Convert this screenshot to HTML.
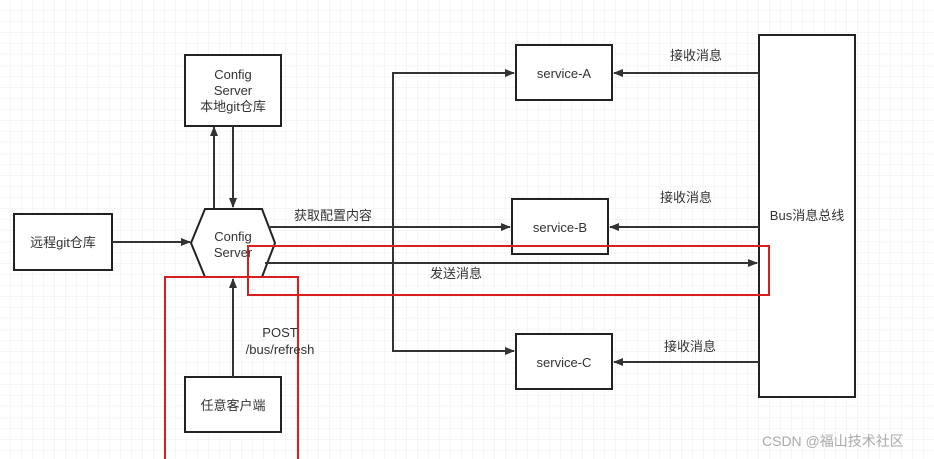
<!DOCTYPE html>
<html><head><meta charset="utf-8"><style>
body{margin:0;width:934px;height:459px;overflow:hidden;background:#fff;}
svg{display:block}
text{font-family:"Liberation Sans","Noto Sans CJK SC",sans-serif;font-size:13px;fill:#333;}
</style></head><body>
<svg width="934" height="459" viewBox="0 0 934 459" xmlns="http://www.w3.org/2000/svg">
<defs>
<pattern id="g" width="11" height="11" patternUnits="userSpaceOnUse"><path d="M11 0V11H0" fill="none" stroke="#ededed" stroke-width="1"/></pattern>
<marker id="a" markerWidth="10" markerHeight="8" refX="9" refY="4" orient="auto" markerUnits="userSpaceOnUse"><path d="M0 0L10 4L0 8z" fill="#333"/></marker>
</defs>
<rect width="934" height="459" fill="url(#g)"/>
<g stroke="#222" stroke-width="2" fill="#fff">
<rect x="14" y="214" width="98" height="56"/>
<rect x="185" y="55" width="96" height="71"/>
<polygon points="205,209 262,209 275,243 262,277 205,277 191,243"/>
<rect x="516" y="45" width="96" height="55"/>
<rect x="512" y="199" width="96" height="55"/>
<rect x="516" y="334" width="96" height="55"/>
<rect x="759" y="35" width="96" height="362"/>
<rect x="185" y="377" width="96" height="55"/>
</g>
<g stroke="#333" stroke-width="2" fill="none">
<line x1="112" y1="242" x2="190" y2="242" marker-end="url(#a)"/>
<line x1="214" y1="208" x2="214" y2="127" marker-end="url(#a)"/>
<line x1="233" y1="126" x2="233" y2="207" marker-end="url(#a)"/>
<line x1="270" y1="227" x2="510" y2="227" marker-end="url(#a)"/>
<polyline points="514,73 393,73 393,351 514,351"/>
<line x1="393" y1="73" x2="514" y2="73" marker-end="url(#a)"/>
<line x1="393" y1="351" x2="514" y2="351" marker-end="url(#a)"/>
<line x1="759" y1="73" x2="614" y2="73" marker-end="url(#a)"/>
<line x1="759" y1="227" x2="610" y2="227" marker-end="url(#a)"/>
<line x1="759" y1="362" x2="614" y2="362" marker-end="url(#a)"/>
<line x1="265" y1="263" x2="757" y2="263" marker-end="url(#a)"/>
<line x1="233" y1="377" x2="233" y2="279" marker-end="url(#a)"/>
</g>
<g stroke="#d81e1e" stroke-width="2" fill="none">
<rect x="248" y="246" width="521" height="49"/>
<polyline points="165,460 165,277 298,277 298,460"/>
</g>
<g text-anchor="middle">
<text x="63" y="247">远程git仓库</text>
<text x="233" y="79">Config</text>
<text x="233" y="95">Server</text>
<text x="233" y="111">本地git仓库</text>
<text x="233" y="241">Config</text>
<text x="233" y="257">Server</text>
<text x="564" y="78">service-A</text>
<text x="560" y="232">service-B</text>
<text x="564" y="367">service-C</text>
<text x="807" y="220">Bus消息总线</text>
<text x="233" y="410">任意客户端</text>
<text x="333" y="220">获取配置内容</text>
<text x="456" y="278">发送消息</text>
<text x="696" y="60">接收消息</text>
<text x="686" y="202">接收消息</text>
<text x="690" y="351">接收消息</text>
<text x="280" y="337">POST</text>
<text x="280" y="354">/bus/refresh</text>
</g>
<text x="762" y="446" style="font-size:14px;fill:#aaa">CSDN @福山技术社区</text>
</svg>
</body></html>
